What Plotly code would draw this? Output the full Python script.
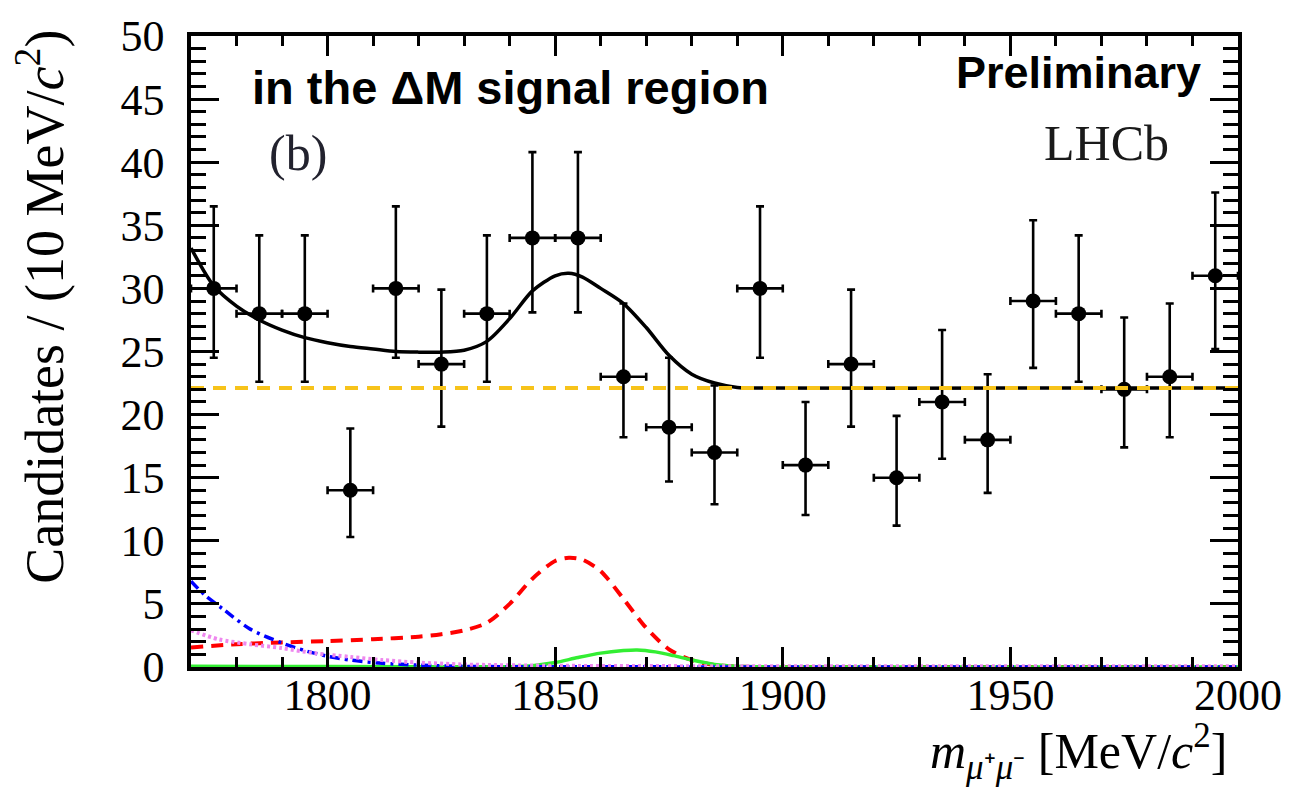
import plotly.graph_objects as go

# ---------------- data ----------------
bin_centers = [1775, 1785, 1795, 1805, 1815, 1825, 1835, 1845, 1855, 1865, 1875, 1885,
               1895, 1905, 1915, 1925, 1935, 1945, 1955, 1965, 1975, 1985, 1995]
counts = [30, 28, 28, 14, 30, 24, 28, 34, 34, 23, 19, 17,
          30, 16, 24, 15, 21, 18, 29, 28, 22, 23, 31]
err_up = [6.5, 6.2, 6.2, 4.9, 6.5, 5.9, 6.2, 6.8, 6.8, 5.8, 5.5, 5.3,
          6.5, 5.0, 5.9, 4.9, 5.7, 5.2, 6.4, 6.2, 5.7, 5.8, 6.6]
err_down = [5.5, 5.4, 5.4, 3.7, 5.5, 4.95, 5.4, 5.9, 5.9, 4.8, 4.3, 4.1,
            5.5, 3.95, 4.95, 3.8, 4.5, 4.2, 5.3, 5.4, 4.6, 4.8, 5.8]
bin_half_width = 5

total_x = [1770, 1775, 1780, 1785, 1790, 1795, 1800, 1805, 1810, 1815, 1820, 1825, 1830,
           1835, 1840, 1845, 1850, 1853, 1856, 1860, 1865, 1870, 1875, 1880, 1885, 1890,
           1895, 1950, 2000]
total_y = [33.2, 30.2, 28.6, 27.5, 26.7, 26.1, 25.7, 25.4, 25.2, 25.0, 24.95, 24.95, 25.1,
           25.8, 27.6, 29.8, 31.0, 31.2, 30.9, 30.0, 28.8, 26.9, 24.7, 23.2, 22.5, 22.15,
           22.1, 22.1, 22.1]

comb_x = [1770, 2000]
comb_y = [22.1, 22.1]

sig_x = [1770, 1780, 1790, 1800, 1810, 1820, 1825, 1830, 1835, 1840, 1845, 1850, 1853,
         1856, 1860, 1865, 1870, 1875, 1880, 1885, 1890, 1950, 2000]
sig_y = [1.55, 1.8, 1.95, 2.05, 2.2, 2.4, 2.6, 2.9, 3.5, 5.0, 7.0, 8.4, 8.65,
         8.5, 7.6, 5.4, 3.1, 1.4, 0.55, 0.15, 0.03, 0.0, 0.0]

peak2_x = [1770, 1800, 1840, 1845, 1850, 1855, 1860, 1865, 1868, 1872, 1876, 1880, 1885,
           1890, 1900, 2000]
peak2_y = [0.05, 0.03, 0.02, 0.1, 0.35, 0.75, 1.1, 1.3, 1.35, 1.2, 0.9, 0.55, 0.2,
           0.05, 0.0, 0.0]

bkg1_x = [1770, 1773, 1777, 1783, 1790, 1795, 1800, 1805, 1812, 1820, 1830, 1850, 2000]
bkg1_y = [6.8, 5.7, 4.6, 3.0, 1.9, 1.3, 0.85, 0.55, 0.3, 0.15, 0.05, 0.02, 0.0]

bkg2_x = [1770, 1776, 1783, 1790, 1797, 1805, 1812, 1820, 1830, 1850, 1900, 2000]
bkg2_y = [2.9, 2.2, 1.8, 1.5, 1.1, 0.8, 0.55, 0.35, 0.2, 0.1, 0.06, 0.05]

x_range = [1770, 2000]
y_range = [0, 50]

# ---------------- figure ----------------
fig = go.Figure()

fig.add_trace(go.Scatter(
    x=bin_centers, y=counts, mode="markers",
    marker=dict(color="black", size=15, symbol="circle"),
    error_y=dict(type="data", symmetric=False, array=err_up, arrayminus=err_down,
                 color="black", thickness=2.6, width=4),
    error_x=dict(type="constant", value=bin_half_width, color="black",
                 thickness=2.6, width=4),
    showlegend=False, cliponaxis=True))

fig.add_trace(go.Scatter(x=total_x, y=total_y, mode="lines",
                         line=dict(color="black", width=3.5, shape="spline", smoothing=0.8),
                         showlegend=False))
fig.add_trace(go.Scatter(x=sig_x, y=sig_y, mode="lines",
                         line=dict(color="#ff0000", width=4, dash="12px,8px",
                                   shape="spline", smoothing=0.8),
                         showlegend=False))
fig.add_trace(go.Scatter(x=peak2_x, y=peak2_y, mode="lines",
                         line=dict(color="#33ee33", width=3.5, shape="spline", smoothing=0.8),
                         showlegend=False))
fig.add_trace(go.Scatter(x=bkg1_x, y=bkg1_y, mode="lines",
                         line=dict(color="#0000ff", width=3.5, dash="10px,5px,3px,5px",
                                   shape="spline", smoothing=0.8),
                         showlegend=False))
fig.add_trace(go.Scatter(x=bkg2_x, y=bkg2_y, mode="lines",
                         line=dict(color="#ee88ee", width=4, dash="3px,3px",
                                   shape="spline", smoothing=0.8),
                         showlegend=False))
fig.add_trace(go.Scatter(x=comb_x, y=comb_y, mode="lines",
                         line=dict(color="#f7c31a", width=4, dash="13px,9px"),
                         showlegend=False))

tick_font = dict(family="Liberation Serif, Times New Roman, serif", size=44, color="black")

fig.update_xaxes(
    range=x_range, showgrid=False, zeroline=False,
    showline=True, linecolor="black", linewidth=3.5, mirror="ticks",
    ticks="inside", ticklen=20, tickwidth=3, tickcolor="black",
    tick0=1800, dtick=50, tickfont=tick_font, ticklabelstandoff=-14,
    minor=dict(ticks="inside", ticklen=10, tickwidth=2.5, tickcolor="black",
               dtick=10, tick0=1770, showgrid=False),
)
fig.update_yaxes(
    range=y_range, showgrid=False, zeroline=False,
    showline=True, linecolor="black", linewidth=3.5, mirror="ticks",
    ticks="inside", ticklen=28, tickwidth=3, tickcolor="black",
    tick0=0, dtick=5, tickfont=tick_font, ticklabelstandoff=14,
    minor=dict(ticks="inside", ticklen=15, tickwidth=2.5, tickcolor="black",
               dtick=1, tick0=0, showgrid=False),
)

W, H = 1294, 790
L, R, T, B = 191, 49, 24, 123
pw, ph = W - L - R, H - T - B


def px_to_paper(xp, yp):
    return (xp - L) / pw, (H - B - yp) / ph


serif = "Liberation Serif, Times New Roman, serif"
sans = "Liberation Sans, Arial, sans-serif"

annotations = []
x0, y0 = px_to_paper(250, 76)
annotations.append(dict(x=x0, y=y0, xref="paper", yref="paper", xanchor="left", yanchor="middle",
                        text="<b>in the ΔM signal region</b>", showarrow=False,
                        font=dict(family=sans, size=47, color="black")))
x0, y0 = px_to_paper(1210, 61)
annotations.append(dict(x=x0, y=y0, xref="paper", yref="paper", xanchor="right", yanchor="middle",
                        text="<b>Preliminary</b>", showarrow=False,
                        font=dict(family=sans, size=45, color="black")))
x0, y0 = px_to_paper(1178, 133)
annotations.append(dict(x=x0, y=y0, xref="paper", yref="paper", xanchor="right", yanchor="middle",
                        text="LHCb", showarrow=False,
                        font=dict(family=serif, size=50, color="#1a1a1a")))
x0, y0 = px_to_paper(268, 143)
annotations.append(dict(x=x0, y=y0, xref="paper", yref="paper", xanchor="left", yanchor="middle",
                        text="(b)", showarrow=False,
                        font=dict(family=serif, size=50, color="#22222e")))
x0, y0 = px_to_paper(1236, 753)
annotations.append(dict(x=x0, y=y0, xref="paper", yref="paper", xanchor="right", yanchor="middle",
                        text="<i>m</i><sub><i>μ</i>⁺<i>μ</i>⁻</sub> [MeV/<i>c</i><sup>2</sup>]",
                        showarrow=False,
                        font=dict(family=serif, size=50, color="black")))
x0, y0 = px_to_paper(40, 300)
annotations.append(dict(x=x0, y=y0, xref="paper", yref="paper", xanchor="center", yanchor="middle",
                        text="Candidates / (10 MeV/<i>c</i><sup>2</sup>)", textangle=-90,
                        showarrow=False,
                        font=dict(family=serif, size=54, color="black")))

fig.update_layout(
    width=W, height=H,
    margin=dict(l=L, r=R, t=T, b=B, pad=0),
    paper_bgcolor="white", plot_bgcolor="white",
    showlegend=False,
    annotations=annotations,
)

fig.write_html("out.html")
